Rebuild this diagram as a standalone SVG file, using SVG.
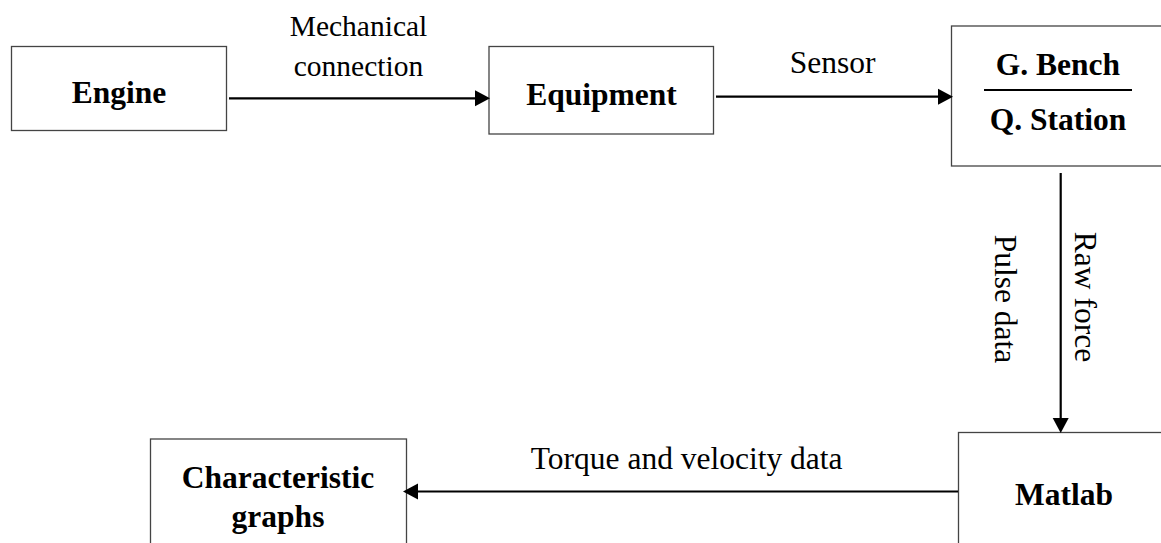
<svg xmlns="http://www.w3.org/2000/svg" width="1161" height="543" viewBox="0 0 1161 543">
  <style>
    .box { fill: #ffffff; stroke: #444444; stroke-width: 1.3; }
    .node { font-family: "Liberation Serif", "Times New Roman", serif; font-weight: bold; font-size: 31.5px; fill: #000000; text-anchor: middle; }
    .lbl { font-family: "Liberation Serif", "Times New Roman", serif; font-size: 31.5px; fill: #000000; text-anchor: middle; }
    .conn { stroke: #000000; stroke-width: 2.2; fill: none; marker-end: url(#arrow); }
  </style>
  <defs>
    <marker id="arrow" markerUnits="userSpaceOnUse" markerWidth="16" markerHeight="17" refX="0" refY="8" orient="auto" overflow="visible">
      <path d="M0,0 L15,8 L0,16 Z" fill="#000000"/>
    </marker>
  </defs>
  <rect width="1161" height="543" fill="#ffffff"/>

  <g id="engine">
    <rect class="box" x="11.5" y="46.5" width="215" height="84"/>
    <text class="node" x="119" y="103">Engine</text>
  </g>

  <g id="equipment">
    <rect class="box" x="489" y="46.5" width="224.5" height="87.5"/>
    <text class="node" x="601.5" y="105">Equipment</text>
  </g>

  <g id="bench-station">
    <rect class="box" x="951.5" y="26" width="230" height="140"/>
    <text class="node" x="1058" y="75">G. Bench</text>
    <line x1="984" y1="90" x2="1132" y2="90" stroke="#000000" stroke-width="2"/>
    <text class="node" x="1058" y="130">Q. Station</text>
  </g>

  <g id="matlab">
    <rect class="box" x="958.5" y="432.5" width="230" height="130"/>
    <text class="node" x="1064" y="505">Matlab</text>
  </g>

  <g id="characteristic-graphs">
    <rect class="box" x="150.5" y="439" width="256" height="120"/>
    <text class="node" x="278" y="488">Characteristic</text>
    <text class="node" x="278" y="527">graphs</text>
  </g>

  <g id="connectors">
    <line class="conn" x1="229" y1="98.3" x2="475" y2="98.3"/>
    <line class="conn" x1="716" y1="96.7" x2="938" y2="96.7"/>
    <line class="conn" x1="1060.7" y1="173" x2="1060.7" y2="418"/>
    <line class="conn" x1="958" y1="491.5" x2="418" y2="491.5"/>
  </g>

  <g id="labels">
    <text class="lbl" x="358.5" y="36" style="font-size:29.5px">Mechanical</text>
    <text class="lbl" x="358.5" y="76" style="font-size:29.5px">connection</text>
    <text class="lbl" x="832.5" y="73">Sensor</text>
    <text class="lbl" x="686.7" y="469">Torque and velocity data</text>
    <text class="lbl" transform="translate(995,299) rotate(90)" x="0" y="0">Pulse data</text>
    <text class="lbl" transform="translate(1075,297) rotate(90)" x="0" y="0">Raw force</text>
  </g>
</svg>
